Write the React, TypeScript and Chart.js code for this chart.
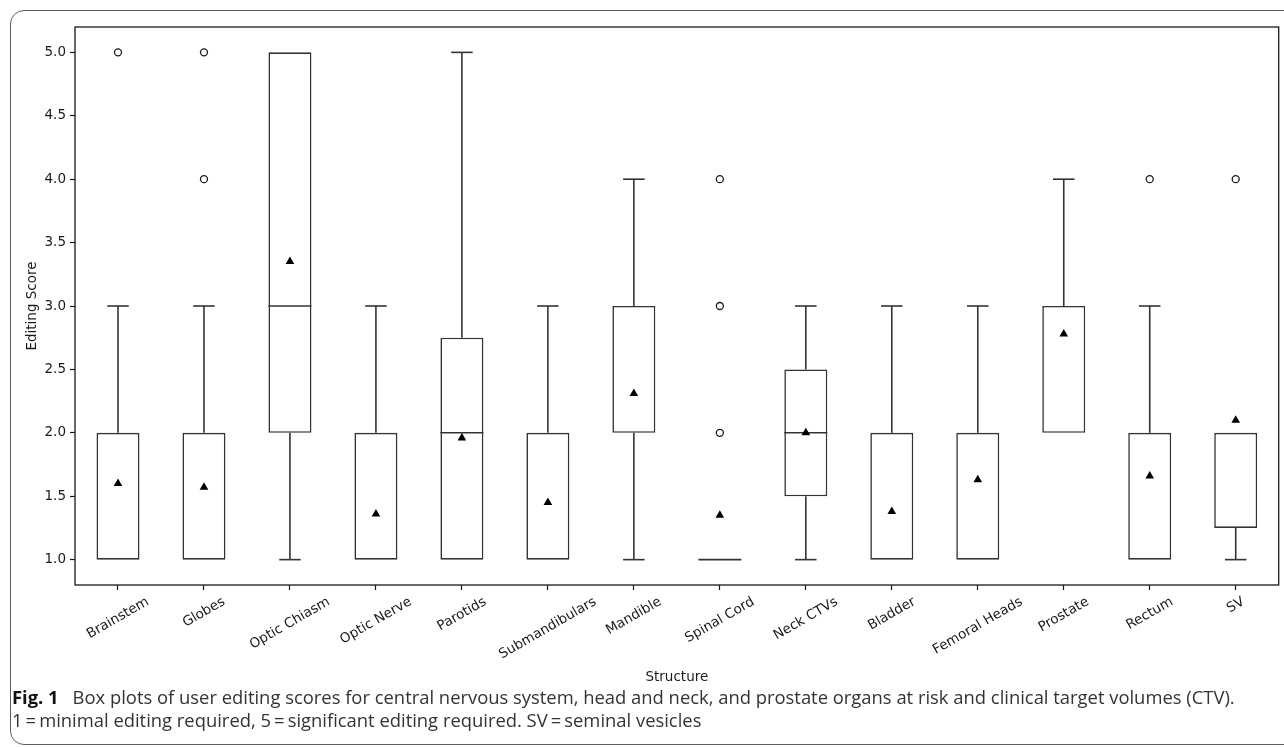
import React, { useEffect, useRef } from 'react';
import { Chart, registerables } from 'chart.js';

Chart.register(...registerables);

// ---------- data ----------
const categories = [
  'Brainstem', 'Globes', 'Optic Chiasm', 'Optic Nerve', 'Parotids', 'Submandibulars', 'Mandible',
  'Spinal Cord', 'Neck CTVs', 'Bladder', 'Femoral Heads', 'Prostate', 'Rectum', 'SV',
];
const q1 = [1, 1, 2, 1, 1, 1, 2, 1, 1.5, 1, 1, 2, 1, 1.25];
const q3 = [2, 2, 5, 2, 2.75, 2, 3, 1, 2.5, 2, 2, 3, 2, 2];
const medians = [2, 2, 3, 1, 2, 1, 2, 1, 2, 1, 2, 3, 2, 2];
const whiskerLow = [1, 1, 1, 1, 1, 1, 1, 1, 1, 1, 1, 2, 1, 1];
const whiskerHigh = [3, 3, 5, 3, 5, 3, 4, 1, 3, 3, 3, 4, 3, 2];
const means = [1.6, 1.57, 3.35, 1.36, 1.96, 1.45, 2.31, 1.35, 2.0, 1.38, 1.63, 2.78, 1.66, 2.1];
const flierCategory = ['Brainstem', 'Globes', 'Globes', 'Spinal Cord', 'Spinal Cord', 'Spinal Cord', 'Rectum', 'SV'];
const flierValue = [5, 5, 4, 4, 3, 2, 4, 4];
const yTicks = [1.0, 1.5, 2.0, 2.5, 3.0, 3.5, 4.0, 4.5, 5.0];

const xTitle = 'Structure';
const yTitle = 'Editing Score';

// ---------- style ----------
const LINE = '#333';
const TEXT = '#1a1a1a';
const FONT = '"DejaVu Sans", sans-serif';
const CAP_FONT = '"Open Sans", "Noto Sans", sans-serif';

const boxPlugin = {
  id: 'boxExtras',
  afterDatasetDraw(chart: any, args: any) {
    if (args.index !== 0) return;
    const { ctx, scales } = chart;
    const x = scales.x;
    const y = scales.y;
    const step = x.getPixelForValue(1) - x.getPixelForValue(0);
    const half = (step * 0.5) / 2;
    const capHalf = half / 2;
    ctx.save();
    ctx.strokeStyle = LINE;
    ctx.lineWidth = 1.6;
    ctx.lineCap = 'butt';
    const seg = (x1: number, y1: number, x2: number, y2: number) => {
      ctx.beginPath();
      ctx.moveTo(x1, y1);
      ctx.lineTo(x2, y2);
      ctx.stroke();
    };
    categories.forEach((_, i) => {
      const cx = x.getPixelForValue(i);
      const yq1 = y.getPixelForValue(q1[i]);
      const yq3 = y.getPixelForValue(q3[i]);
      const ylo = y.getPixelForValue(whiskerLow[i]);
      const yhi = y.getPixelForValue(whiskerHigh[i]);
      if (whiskerLow[i] < q1[i]) {
        seg(cx, yq1, cx, ylo);
        seg(cx - capHalf, ylo, cx + capHalf, ylo);
      }
      if (whiskerHigh[i] > q3[i]) {
        seg(cx, yq3, cx, yhi);
        seg(cx - capHalf, yhi, cx + capHalf, yhi);
      }
      const degenerate = q1[i] === q3[i];
      if (degenerate || (medians[i] !== q1[i] && medians[i] !== q3[i])) {
        const ym = y.getPixelForValue(medians[i]);
        seg(cx - half, ym, cx + half, ym);
      }
    });
    ctx.restore();
  },
  afterDraw(chart: any) {
    const { ctx, chartArea, scales } = chart;
    const x = scales.x;
    ctx.save();
    // frame (all four spines)
    ctx.strokeStyle = '#1a1a1a';
    ctx.lineWidth = 1.3;
    ctx.strokeRect(chartArea.left, chartArea.top, chartArea.right - chartArea.left, chartArea.bottom - chartArea.top);
    // rotated, centred x tick labels
    const size = 13.5;
    ctx.font = `${size}px ${FONT}`;
    ctx.fillStyle = TEXT;
    ctx.textAlign = 'center';
    ctx.textBaseline = 'middle';
    const ang = (30 * Math.PI) / 180;
    const top = chartArea.bottom + 5 + 4;
    const h = size * 1.17;
    categories.forEach((c, i) => {
      const px = x.getPixelForTick(i);
      const w = ctx.measureText(c).width;
      const H = w * Math.sin(ang) + h * Math.cos(ang);
      ctx.save();
      ctx.translate(px, top + H / 2);
      ctx.rotate(-ang);
      ctx.fillText(c, 0, 0);
      ctx.restore();
    });
    ctx.restore();
  },
};

export default function App() {
  const ref = useRef<HTMLCanvasElement>(null);

  useEffect(() => {
    const chart = new Chart(ref.current as HTMLCanvasElement, {
      type: 'bar',
      data: {
        labels: categories,
        datasets: [
          {
            type: 'bar',
            data: categories.map((_, i) => [q1[i], q3[i]]),
            backgroundColor: '#ffffff',
            borderColor: LINE,
            borderWidth: 1.6,
            borderSkipped: false,
            barPercentage: 0.5,
            categoryPercentage: 1,
            order: 2,
          } as any,
          {
            type: 'scatter',
            data: categories.map((c, i) => ({ x: c, y: means[i] })),
            pointStyle: 'triangle',
            radius: 5,
            backgroundColor: '#000',
            borderColor: '#000',
            borderWidth: 0,
            order: 0,
          } as any,
          {
            type: 'scatter',
            data: flierCategory.map((c, i) => ({ x: c, y: flierValue[i] })),
            pointStyle: 'circle',
            radius: 3.5,
            backgroundColor: '#fff',
            borderColor: '#1a1a1a',
            borderWidth: 1.3,
            order: 1,
          } as any,
        ],
      },
      options: {
        animation: false,
        responsive: false,
        maintainAspectRatio: false,
        layout: { padding: { left: 0, right: 5, top: 15, bottom: 0 } },
        plugins: { legend: { display: false }, tooltip: { enabled: false } },
        scales: {
          x: {
            type: 'category',
            offset: true,
            grid: { display: true, drawOnChartArea: false, offset: false, tickLength: 5, color: '#1a1a1a', tickColor: '#1a1a1a', tickWidth: 1.2 },
            border: { display: false },
            ticks: { display: false },
            title: { display: true, text: xTitle, color: TEXT, font: { family: FONT, size: 13.5 }, padding: { top: 0, bottom: 16 } },
            afterFit: (s: any) => { s.height = 117; },
          },
          y: {
            type: 'linear',
            min: 0.8,
            max: 5.2,
            afterBuildTicks: (s: any) => { s.ticks = yTicks.map((v) => ({ value: v })); },
            ticks: {
              callback: (v: any) => Number(v).toFixed(1),
              color: TEXT,
              font: { family: FONT, size: 13.5 },
              padding: 4,
            },
            grid: { display: true, drawOnChartArea: false, tickLength: 5, color: '#1a1a1a', tickColor: '#1a1a1a', tickWidth: 1.2 },
            border: { display: false },
            title: { display: true, text: yTitle, color: TEXT, font: { family: FONT, size: 13.5 }, padding: { top: 12, bottom: 0 } },
            afterFit: (s: any) => { s.width = 63; },
          },
        },
      } as any,
      plugins: [boxPlugin],
    });
    return () => chart.destroy();
  }, []);

  return (
    <>
      <div
        style={{
          position: 'fixed', left: 10, top: 10, width: 1320, height: 735,
          border: '1.5px solid #5e5e5e', borderRadius: 14, boxSizing: 'border-box',
        }}
      />
      <canvas
        ref={ref}
        width={1272}
        height={690}
        style={{ position: 'fixed', left: 12, top: 12, width: 1272, height: 690, display: 'block' }}
      />
      <div
        style={{
          position: 'fixed', left: 12, top: 685, fontFamily: CAP_FONT, fontSize: 18.4,
          lineHeight: '23px', color: '#333', whiteSpace: 'nowrap',
        }}
      >
        <div><b style={{ color: '#111' }}>Fig. 1</b>{'\u2002 Box plots of user editing scores for central nervous system, head and neck, and prostate organs at risk and clinical target volumes (CTV).'}</div>
        <div>{'1\u2009=\u2009minimal editing required, 5\u2009=\u2009significant editing required. SV\u2009=\u2009seminal vesicles'}</div>
      </div>
    </>
  );
}
